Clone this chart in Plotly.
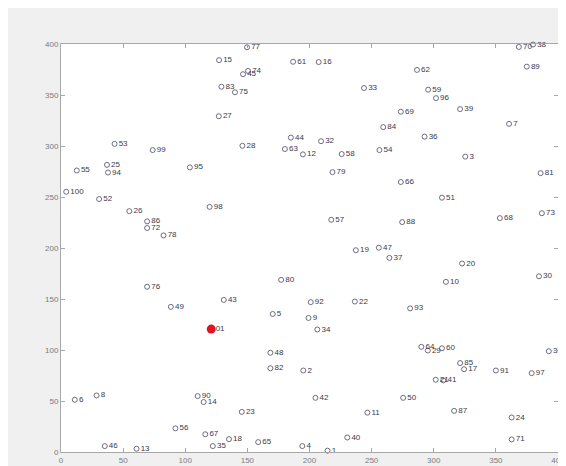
import plotly.graph_objects as go

labels = [str(i) for i in range(1, 101)]
x_vals = [214.5, 195.0, 325.4, 194.2, 170.4, 11.1, 360.6, 28.6, 199.2, 309.8,
          246.6, 194.7, 60.8, 114.8, 127.2, 207.4, 324.4, 135.2, 237.3, 322.8,
          301.6, 236.5, 145.5, 362.7, 37.0, 55.0, 127.0, 146.0, 295.2, 384.7,
          392.6, 209.3, 243.9, 206.3, 122.2, 292.6, 264.3, 379.9, 321.2, 230.4,
          307.7, 204.8, 131.0, 185.0, 146.5, 35.2, 255.8, 168.5, 88.4, 275.4,
          306.6, 30.7, 43.1, 256.3, 12.7, 92.1, 217.5, 225.9, 295.5, 306.6,
          186.8, 286.5, 180.2, 290.0, 158.7, 273.5, 116.1, 353.2, 273.5, 368.5,
          362.7, 69.3, 387.0, 150.5, 140.0, 69.3, 149.7, 82.5, 218.5, 177.2,
          386.0, 168.5, 129.1, 259.3, 321.2, 69.3, 316.4, 274.6, 374.9, 110.0,
          350.0, 201.0, 281.0, 37.8, 103.7, 301.8, 378.8, 119.6, 73.8, 4.2]
y_vals = [1.3, 79.9, 289.6, 5.8, 135.3, 51.2, 321.7, 55.4, 131.4, 166.8,
          38.6, 291.8, 3.2, 49.0, 384.2, 382.3, 81.2, 12.6, 197.8, 184.8,
          70.8, 147.5, 39.3, 33.8, 281.5, 236.1, 329.2, 300.2, 99.5, 172.3,
          98.8, 304.7, 356.8, 120.1, 5.8, 309.2, 190.3, 399.5, 336.2, 14.2,
          70.2, 53.1, 149.1, 308.2, 370.4, 5.8, 200.3, 97.3, 142.3, 53.1,
          249.3, 248.0, 302.1, 296.0, 276.0, 23.2, 227.7, 292.1, 355.2, 101.7,
          382.6, 374.6, 297.0, 103.1, 9.7, 264.7, 17.4, 229.3, 333.6, 397.1,
          12.3, 219.6, 234.1, 373.6, 352.7, 162.0, 396.8, 212.3, 274.4, 168.8,
          273.4, 82.1, 358.1, 318.5, 87.2, 226.1, 40.3, 225.4, 377.8, 54.8,
          79.9, 146.9, 140.8, 274.0, 279.0, 346.9, 77.3, 240.3, 296.0, 255.1]

special_label = ["101"]
special_x = [120.9]
special_y = [120.5]

x_ticks = [0, 50, 100, 150, 200, 250, 300, 350, 400]
y_ticks = [0, 50, 100, 150, 200, 250, 300, 350, 400]

fig = go.Figure()
fig.add_trace(go.Scatter(
    x=x_vals, y=y_vals, text=labels, mode="markers+text",
    textposition="middle right",
    textfont=dict(size=8, color="#3a3a4a", family="Liberation Sans, Arial, sans-serif"),
    marker=dict(symbol="circle-open", size=5, color="#4a4a66", line=dict(width=0.8)),
    cliponaxis=False, hoverinfo="skip", showlegend=False))
fig.add_trace(go.Scatter(
    x=special_x, y=special_y, text=special_label, mode="text",
    textposition="middle right",
    textfont=dict(size=8, color="#3a3a4a", family="Liberation Sans, Arial, sans-serif"),
    cliponaxis=False, showlegend=False))
fig.add_trace(go.Scatter(
    x=special_x, y=special_y, mode="markers",
    marker=dict(symbol="circle", size=9, color="#e0141e", line=dict(width=0)),
    cliponaxis=False, showlegend=False))

axis_common = dict(
    showgrid=False, zeroline=False, showline=True, linecolor="#a8a8a8", linewidth=1,
    mirror="ticks", ticks="inside", ticklen=4, tickcolor="#a8a8a8",
    tickfont=dict(size=8, color="#7a7a7a", family="Liberation Sans, Arial, sans-serif"),
)
fig.update_xaxes(range=[0, 400], tickvals=x_ticks, ticktext=[str(v) for v in x_ticks], **axis_common)
fig.update_yaxes(range=[0, 400], tickvals=y_ticks, ticktext=[str(v) for v in y_ticks], **axis_common)

fig.update_layout(
    width=566, height=466,
    margin=dict(l=53, r=9, t=36, b=16),
    paper_bgcolor="#f0f0f0", plot_bgcolor="#ffffff",
)
fig.write_html("out.html")
